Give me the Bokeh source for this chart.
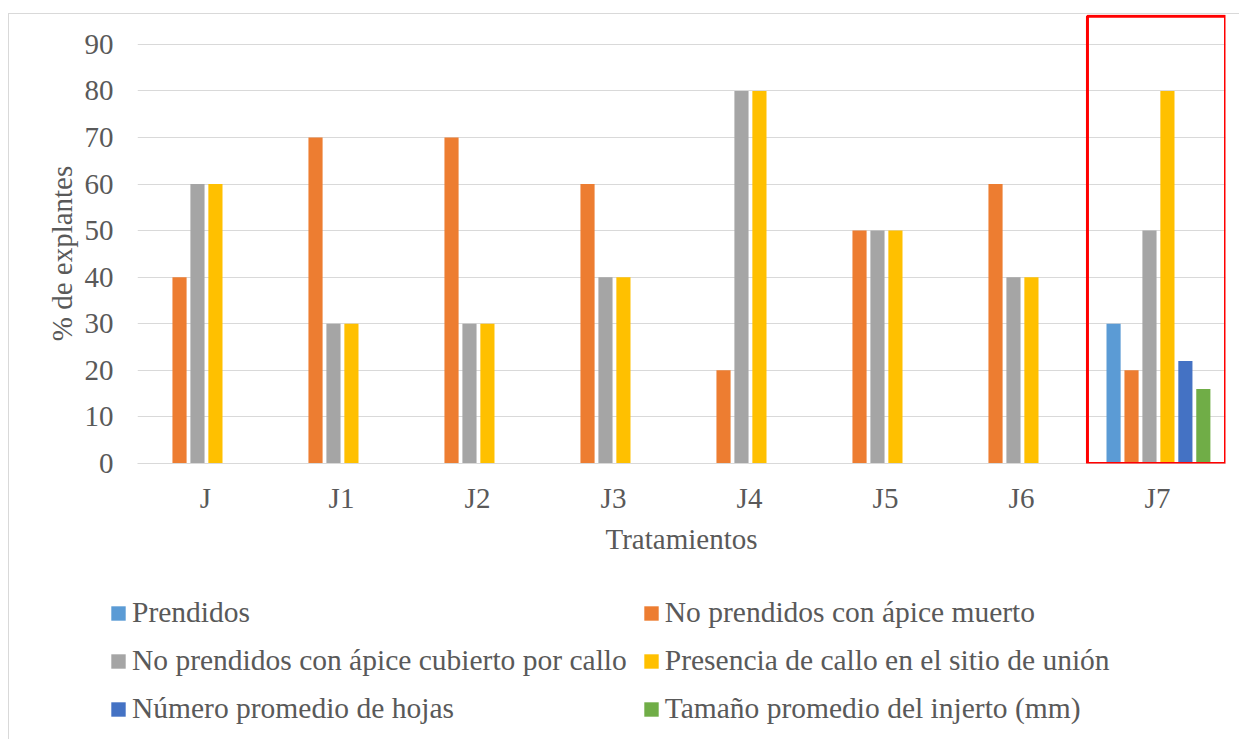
from bokeh.plotting import figure
from bokeh.layouts import column
from bokeh.models import (ColumnDataSource, FactorRange, Range1d, FixedTicker,
                          Legend, LegendItem, BoxAnnotation)
from bokeh.transform import dodge
from bokeh.embed import file_html
from bokeh.resources import INLINE

# Treatments and the six measured variables
categories = ["J", "J1", "J2", "J3", "J4", "J5", "J6", "J7"]

series_names = [
    "Prendidos",
    "No prendidos con ápice muerto",
    "No prendidos con ápice cubierto por callo",
    "Presencia de callo en el sitio de unión",
    "Número promedio de hojas",
    "Tamaño promedio del injerto (mm)",
]

prendidos = [0, 0, 0, 0, 0, 0, 0, 30]
apice_muerto = [40, 70, 70, 60, 20, 50, 60, 20]
apice_callo = [60, 30, 30, 40, 80, 50, 40, 50]
callo_union = [60, 30, 30, 40, 80, 50, 40, 80]
hojas = [0, 0, 0, 0, 0, 0, 0, 22]
tamano = [0, 0, 0, 0, 0, 0, 0, 16]

y_ticks = [0, 10, 20, 30, 40, 50, 60, 70, 80, 90]
highlight = "J7"

colors = ["#5B9BD5", "#ED7D31", "#A5A5A5", "#FFC000", "#4472C4", "#70AD47"]
keys = ["s0", "s1", "s2", "s3", "s4", "s5"]
values = [prendidos, apice_muerto, apice_callo, callo_union, hojas, tamano]

src = ColumnDataSource(dict(cat=categories, **{k: v for k, v in zip(keys, values)}))

FONT = "Liberation Serif"
FS = "29px"
TXT = "#595959"
GRID = "#D9D9D9"
W = 1231

# ---- main chart ----
p = figure(
    x_range=FactorRange(*categories),
    y_range=Range1d(0, 96.4),
    width=W, height=566,
    output_backend="svg", toolbar_location=None,
    min_border_left=128, min_border_right=15,
    min_border_top=0, min_border_bottom=117,
)
p.frame_align = False
p.outline_line_color = None
p.background_fill_color = "white"
p.border_fill_color = "white"

p.xgrid.grid_line_color = None
p.ygrid.grid_line_color = GRID
p.ygrid.grid_line_width = 1

p.yaxis.ticker = FixedTicker(ticks=y_ticks)
p.yaxis.axis_line_color = None
p.yaxis.major_tick_line_color = None
p.yaxis.minor_tick_line_color = None
p.yaxis.major_label_standoff = 18
p.yaxis.major_label_text_font = FONT
p.yaxis.major_label_text_font_size = FS
p.yaxis.major_label_text_color = TXT
# the title sits centred on the 0-90 span, below the frame's middle
p.yaxis.axis_label = "% de explantes" + "\u00a0" * 4
p.yaxis.axis_label_standoff = 4
p.yaxis.axis_label_text_font = FONT
p.yaxis.axis_label_text_font_size = FS
p.yaxis.axis_label_text_font_style = "normal"
p.yaxis.axis_label_text_color = TXT

p.xaxis.axis_line_color = GRID
p.xaxis.major_tick_line_color = None
p.xaxis.minor_tick_line_color = None
p.xaxis.major_label_standoff = 12
p.xaxis.major_label_text_font = FONT
p.xaxis.major_label_text_font_size = FS
p.xaxis.major_label_text_color = TXT
p.xaxis.axis_label = "Tratamientos"
p.xaxis.axis_label_standoff = 6
p.xaxis.axis_label_text_font = FONT
p.xaxis.axis_label_text_font_size = FS
p.xaxis.axis_label_text_font_style = "normal"
p.xaxis.axis_label_text_color = TXT

# grouped bars: six slots per treatment
step = 0.132
bar_w = 0.104
for i, (k, c) in enumerate(zip(keys, colors)):
    p.vbar(x=dodge("cat", (i - 2.5) * step + 0.007, range=p.x_range), top=k,
           width=bar_w, source=src, fill_color=c, line_color=None)

# red frame around the highlighted treatment
hi = categories.index(highlight)
p.add_layout(BoxAnnotation(left=hi - 0.015, right=hi + 1.0, bottom=0, top=96,
                           fill_alpha=0, line_color="#FF0000", line_alpha=1.0,
                           line_width=3))

# ---- legend strip ----
lg = figure(width=W, height=159, output_backend="svg", toolbar_location=None,
            x_axis_location=None, y_axis_location=None,
            min_border_left=0, min_border_right=0, min_border_top=0, min_border_bottom=0,
            x_range=Range1d(0, 1), y_range=Range1d(0, 1))
lg.frame_align = False
lg.outline_line_color = None
lg.xgrid.grid_line_color = None
lg.ygrid.grid_line_color = None

# swatch renderers kept outside the visible range; they only feed the legend
swatches = [lg.vbar(x=[5], top=[5], bottom=[4], width=0.1, fill_color=c, line_color=None)
            for c in colors]
items = [LegendItem(label=n, renderers=[r]) for n, r in zip(series_names, swatches)]

legend = Legend(items=items, location=(100, 14), orientation="horizontal", ncols=2,
                glyph_width=18, glyph_height=18, label_standoff=5,
                label_height=30, spacing=15, padding=0, margin=0,
                border_line_color=None, background_fill_alpha=0,
                label_text_font=FONT, label_text_font_size="29.5px",
                label_text_color=TXT)
lg.add_layout(legend)

page = column(p, lg, spacing=0)
page.styles = {
    "margin-left": "8px", "margin-top": "13px",
    "border-left": f"1px solid {GRID}", "border-top": f"1px solid {GRID}",
}

open("out.html", "w").write(file_html(page, INLINE, title="Tratamientos"))
